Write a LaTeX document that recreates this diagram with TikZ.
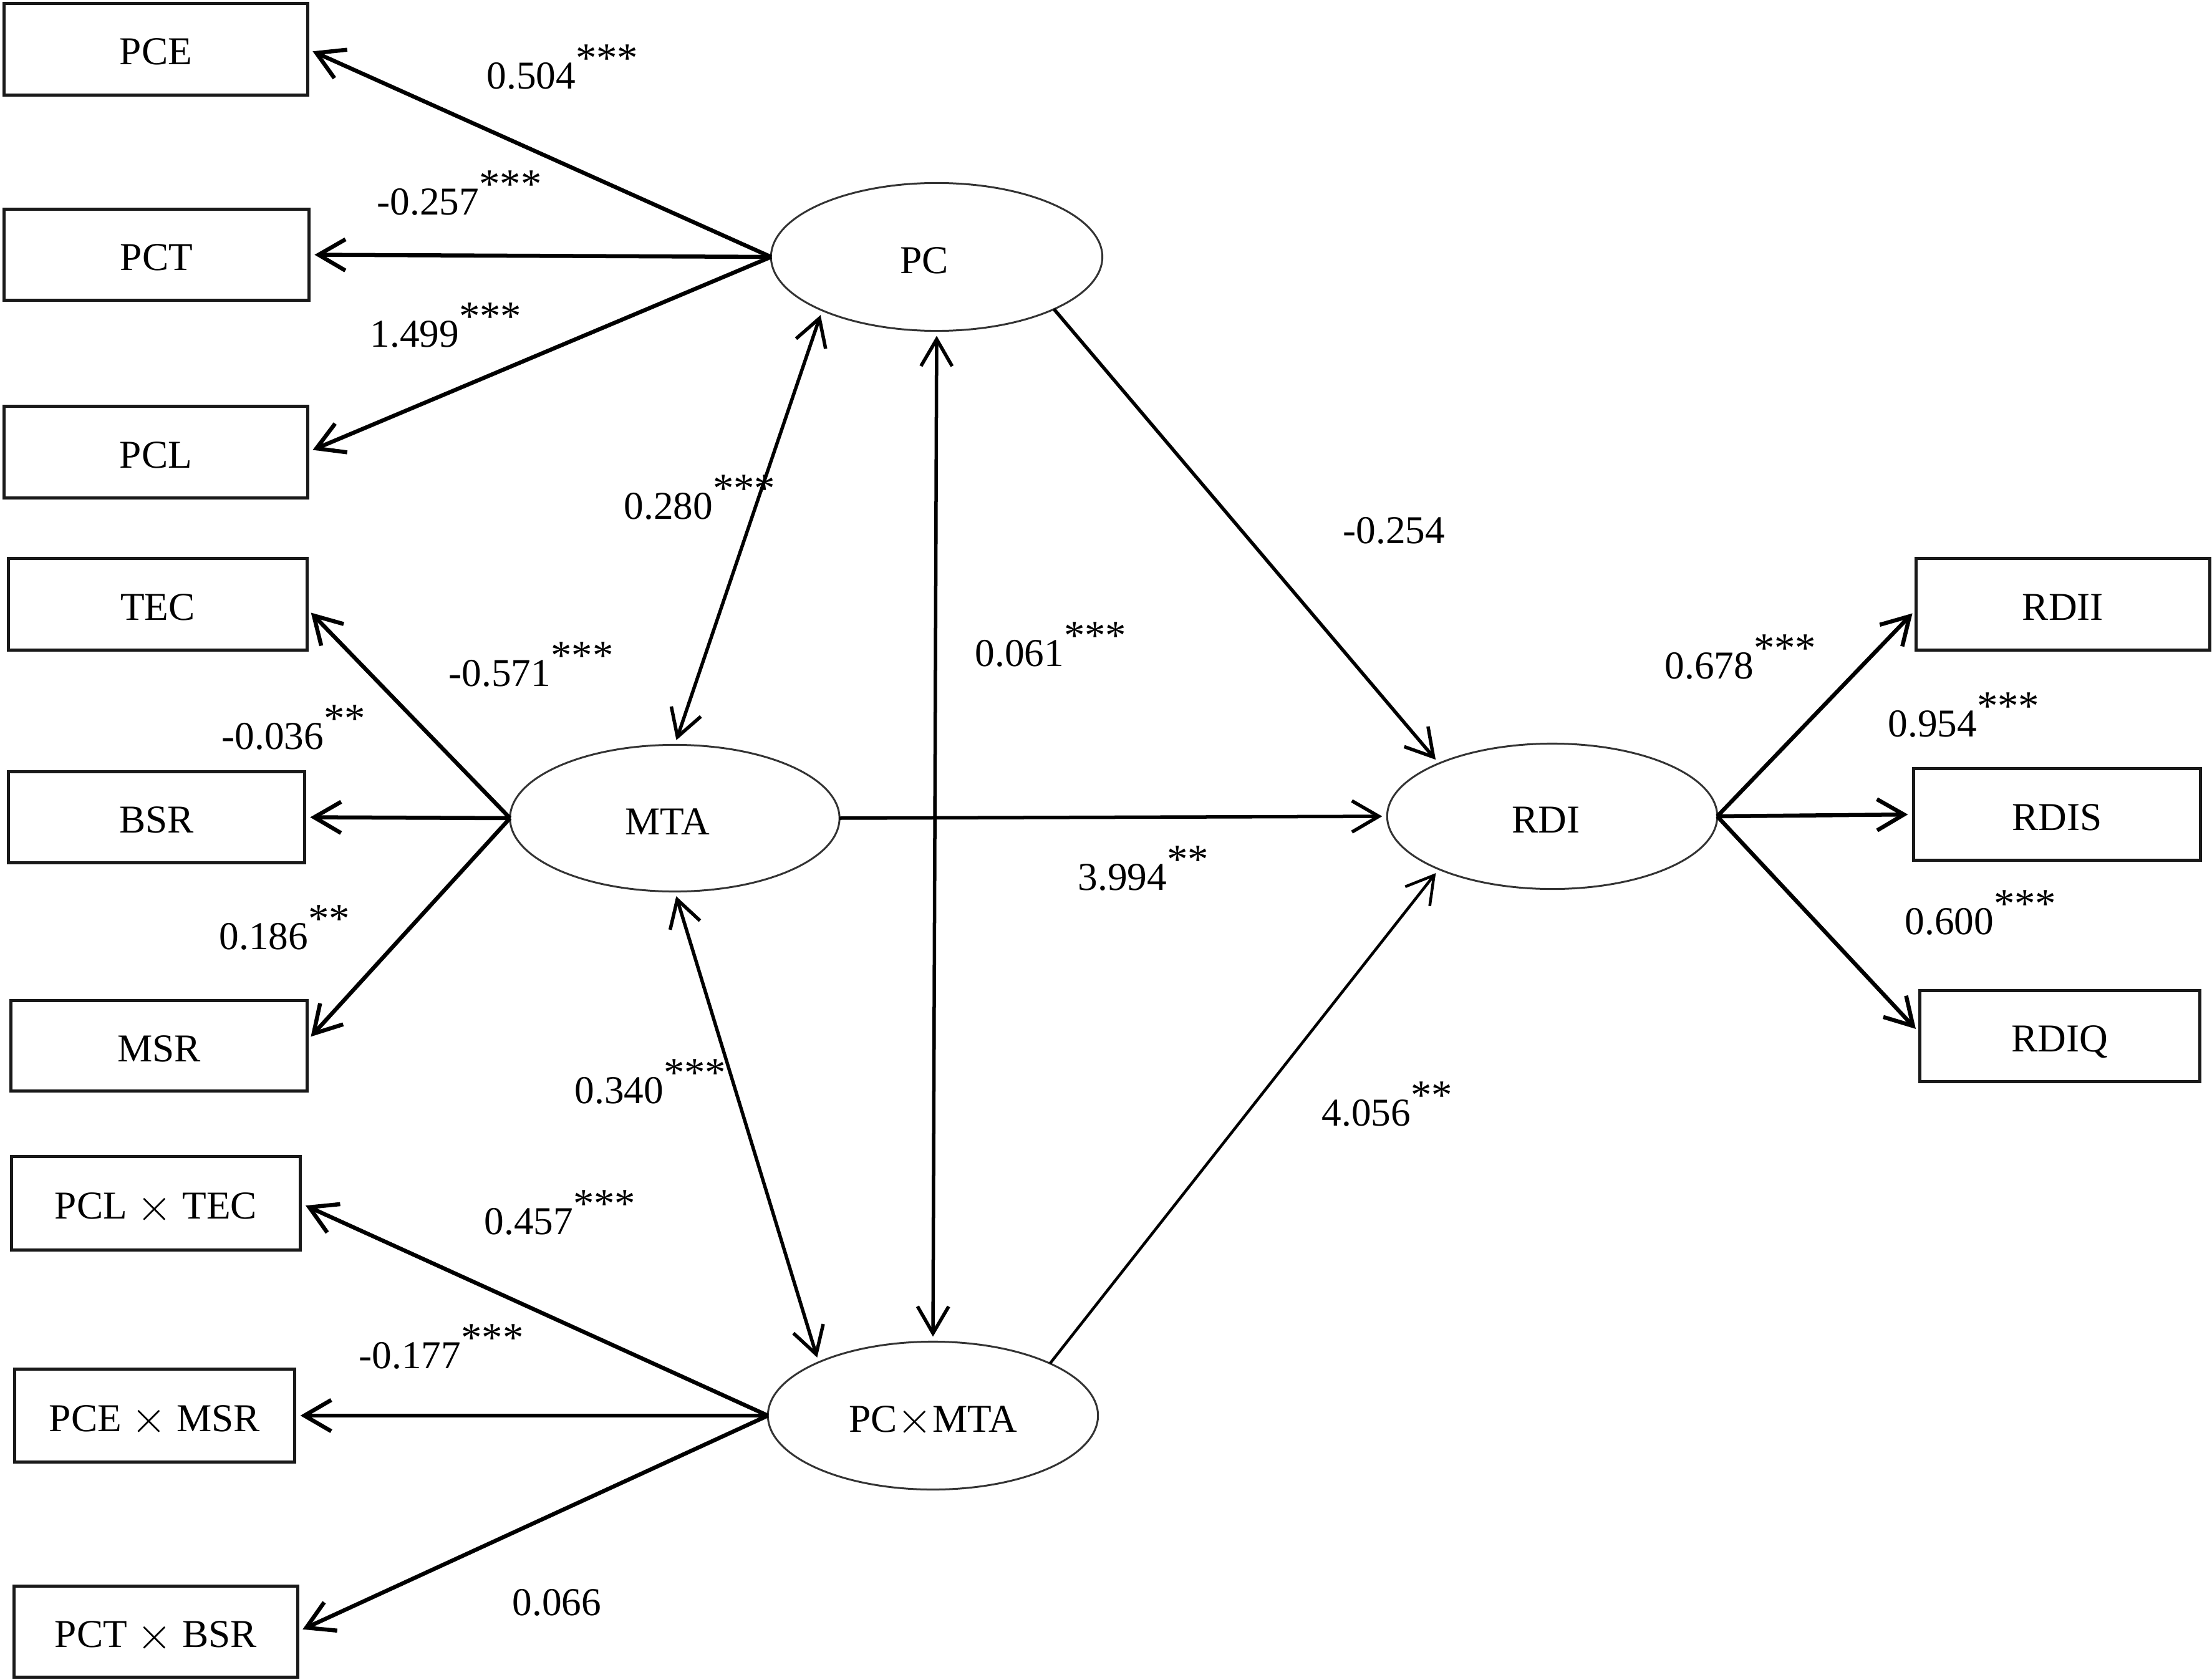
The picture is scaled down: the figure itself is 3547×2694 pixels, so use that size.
\documentclass[tikz,border=0pt]{standalone}
\usepackage{fontspec}
\setmainfont{Liberation Serif}
\usetikzlibrary{arrows.meta,shapes.geometric}
\newcommand{\mysup}[1]{\raisebox{0.42em}{\fontsize{19}{19}\selectfont #1}}
\newcommand{\mytimes}{\raisebox{-0.04em}{\fontsize{21}{21}\selectfont$\times$}}
\begin{document}
\begin{tikzpicture}[x=0.01cm,y=-0.01cm,
  every node/.style={font=\fontsize{18}{21}\selectfont},
  box/.style={draw=black!90, line width=0.05cm, rectangle, inner sep=0pt, outer sep=0pt, text height=0.6cm, text depth=0.1cm},
  lat/.style={draw=black!80, line width=0.03cm, ellipse, inner sep=0pt, outer sep=0pt, text height=0.62cm, text depth=0.1cm},
  tipb/.tip={Straight Barb[length=0.43cm,width=0.5cm]},
  arr/.style={line width=0.065cm, -tipb, shorten >=0.09cm},
  iarr/.style={line width=0.055cm, -tipb, shorten >=0.08cm},
  darr/.style={line width=0.055cm, tipb-tipb, shorten >=0.08cm, shorten <=0.08cm},
  lab/.style={anchor=base west, inner sep=0pt}]
\useasboundingbox (0,0) rectangle (3547,2694);
% left boxes
\node[box, minimum width=4.86cm, minimum height=1.47cm] (PCE) at (250,78.6) {PCE};
\node[box, minimum width=4.885cm, minimum height=1.46cm] (PCT) at (251,408.5) {PCT};
\node[box, minimum width=4.86cm, minimum height=1.47cm] (PCL) at (250,725) {PCL};
\node[box, minimum width=4.785cm, minimum height=1.46cm] (TEC) at (253,969) {TEC};
\node[box, minimum width=4.745cm, minimum height=1.46cm] (BSR) at (251,1310.5) {BSR};
\node[box, minimum width=4.745cm, minimum height=1.455cm] (MSR) at (255,1677) {MSR};
\node[box, minimum width=4.635cm, minimum height=1.49cm] (PCLTEC) at (250,1929.5) {PCL \mytimes{} TEC};
\node[box, minimum width=4.49cm, minimum height=1.49cm] (PCEMSR) at (248,2270) {PCE \mytimes{} MSR};
\node[box, minimum width=4.54cm, minimum height=1.46cm] (PCTBSR) at (250,2616.5) {PCT \mytimes{} BSR};
% right boxes
\node[box, minimum width=4.70cm, minimum height=1.46cm] (RDII) at (3308,969) {RDII};
\node[box, minimum width=4.60cm, minimum height=1.465cm] (RDIS) at (3298.5,1306) {RDIS};
\node[box, minimum width=4.495cm, minimum height=1.46cm] (RDIQ) at (3303,1661.5) {RDIQ};
% latent variables
\node[lat, minimum width=5.31cm, minimum height=2.37cm] (PC) at (1502,412) {PC\kern0.4cm};
\node[lat, minimum width=5.28cm, minimum height=2.35cm] (MTA) at (1082,1312) {MTA\kern0.24cm};
\node[lat, minimum width=5.29cm, minimum height=2.33cm] (RDI) at (2489,1309) {RDI\kern0.2cm};
\node[lat, minimum width=5.29cm, minimum height=2.37cm] (PCMTA) at (1496,2270) {PC\mytimes{}MTA};
% fans
\draw[arr] (PC.west) -- (PCE.east);
\draw[arr] (PC.west) -- (PCT.east);
\draw[arr] (PC.west) -- (PCL.east);
\draw[arr] (MTA.west) -- ([yshift=-0.07cm]TEC.east);
\draw[arr] (MTA.west) -- (BSR.east);
\draw[arr] (MTA.west) -- ([yshift=0.08cm]MSR.east);
\draw[arr] (PCMTA.west) -- (PCLTEC.east);
\draw[arr] (PCMTA.west) -- (PCEMSR.east);
\draw[arr] (PCMTA.west) -- (PCTBSR.east);
\draw[arr] (RDI.east) -- ([yshift=-0.08cm]RDII.west);
\draw[arr] (RDI.east) -- (RDIS.west);
\draw[arr] (RDI.east) -- ([yshift=0.05cm]RDIQ.west);
% structural paths
\draw[darr] (MTA.north) -- (PC.-155.6);
\draw[darr] (PC.south) -- (PCMTA.north);
\draw[darr] (MTA.south) -- (PCMTA.155.8);
\draw[iarr] (PC.-24.3) -- (RDI.155.3);
\draw[iarr] (MTA.east) -- (RDI.west);
\draw[iarr, line width=0.045cm] (PCMTA.24.5) -- (RDI.-155.3);
% labels
\node[lab] (l1) at (780,142.5) {0.504\mysup{***}};
\node[lab] (l2) at (604,344) {-0.257\mysup{***}};
\node[lab] (l3) at (593,556) {1.499\mysup{***}};
\node[lab] (l4) at (1000,832) {0.280\mysup{***}};
\node[lab] (l5) at (719,1100) {-0.571\mysup{***}};
\node[lab] (l6) at (355,1201) {-0.036\mysup{**}};
\node[lab] (l7) at (351,1522) {0.186\mysup{**}};
\node[lab] (l8) at (921,1769) {0.340\mysup{***}};
\node[lab] (l9) at (776,1979) {0.457\mysup{***}};
\node[lab] (l10) at (575,2194) {-0.177\mysup{***}};
\node[lab] (l11) at (821,2590) {0.066};
\node[lab] (l12) at (1563,1068) {0.061\mysup{***}};
\node[lab] (l13) at (2153,871) {-0.254};
\node[lab] (l14) at (1728,1427) {3.994\mysup{**}};
\node[lab] (l15) at (2119,1805) {4.056\mysup{**}};
\node[lab] (l16) at (2669,1088) {0.678\mysup{***}};
\node[lab] (l17) at (3027,1181) {0.954\mysup{***}};
\node[lab] (l18) at (3054,1498) {0.600\mysup{***}};
\end{tikzpicture}
\end{document}
